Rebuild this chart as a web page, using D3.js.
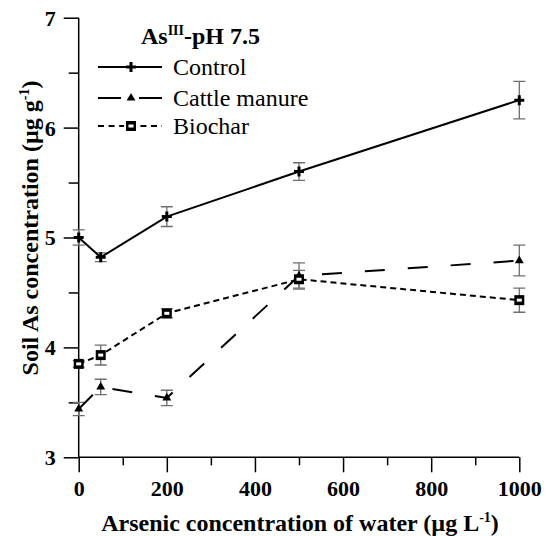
<!DOCTYPE html>
<html>
<head>
<meta charset="utf-8">
<script src="https://cdn.jsdelivr.net/npm/d3@7"></script>
<style>
  html, body { margin: 0; padding: 0; background: #fff; }
</style>
</head>
<body>
<div id="chart"></div>
<script>
// Arsenic concentration of irrigation water (µg L-1)
const waterAs = [0, 50, 200, 500, 1000];

// Soil As concentration (µg g-1) and standard errors per treatment
const controlMean = [5.00, 4.82, 5.19, 5.60, 6.25];
const controlErr  = [0.07, 0.04, 0.09, 0.08, 0.17];
const cattleMean  = [3.44, 3.64, 3.54, 4.65, 4.79];
const cattleErr   = [0.06, 0.07, 0.07, 0.12, 0.14];
const biocharMean = [3.85, 3.93, 4.31, 4.62, 4.43];
const biocharErr  = [0.03, 0.09, 0.04, 0.08, 0.11];

const seriesNames = ["Control", "Cattle manure", "Biochar"];
const xTicks = [0, 200, 400, 600, 800, 1000];
const xMinorTicks = [100, 300, 500, 700, 900];
const yTicks = [3, 4, 5, 6, 7];
const yMinorTicks = [3.5, 4.5, 5.5, 6.5];

const SERIF = '"Liberation Serif", "Times New Roman", serif';
const W = 549, H = 536;
const margin = { top: 17.7, right: 29.7, bottom: 78.7, left: 78.7 };

const svg = d3.select("#chart").append("svg")
  .attr("width", W).attr("height", H)
  .attr("font-family", SERIF);

const x = d3.scaleLinear().domain([0, 1000]).range([margin.left, W - margin.right]);
const y = d3.scaleLinear().domain([3, 7]).range([H - margin.bottom, margin.top]);

// Axes with major (labelled) and minor ticks
const xAxis = svg.append("g")
  .attr("transform", `translate(0,${y(3)})`)
  .call(d3.axisBottom(x).tickValues(xTicks).tickSize(15).tickPadding(4).tickFormat(d3.format("d")));
svg.append("g")
  .attr("transform", `translate(0,${y(3)})`)
  .call(d3.axisBottom(x).tickValues(xMinorTicks).tickSize(8).tickFormat(""))
  .call(g => g.select(".domain").remove());

const yAxis = svg.append("g")
  .attr("transform", `translate(${x(0)},0)`)
  .call(d3.axisLeft(y).tickValues(yTicks).tickSize(15).tickPadding(8).tickFormat(d3.format("d")));
svg.append("g")
  .attr("transform", `translate(${x(0)},0)`)
  .call(d3.axisLeft(y).tickValues(yMinorTicks).tickSize(10).tickFormat(""))
  .call(g => g.select(".domain").remove());

svg.selectAll(".domain").attr("stroke", "#000").attr("stroke-width", 1.5);
xAxis.select(".domain").attr("d", `M${x(0)},0H${x(1000)}`);
yAxis.select(".domain").attr("d", `M0,${y(7)}V${y(3)}`);
svg.selectAll(".tick line").attr("stroke", "#000").attr("stroke-width", 1.5);
svg.selectAll(".tick text")
  .attr("font-family", SERIF)
  .attr("font-weight", "bold")
  .attr("font-size", 22)
  .attr("fill", "#000");
xAxis.selectAll(".tick text").attr("dy", "0.9em");
yAxis.selectAll(".tick text").attr("dy", "0.34em");

// Axis titles
svg.append("text")
  .attr("x", (x(0) + x(1000)) / 2 + 1).attr("y", 531)
  .attr("text-anchor", "middle")
  .attr("font-family", SERIF).attr("font-weight", "bold").attr("font-size", 24)
  .html('Arsenic concentration of water (µg L<tspan dy="-9" font-size="14">-1</tspan><tspan dy="9">)</tspan>');

svg.append("text")
  .attr("transform", `translate(38,228) rotate(-90)`)
  .attr("text-anchor", "middle")
  .attr("font-family", SERIF).attr("font-weight", "bold").attr("font-size", 24)
  .html('Soil As concentration (µg g<tspan dy="-9" font-size="14">-1</tspan><tspan dy="9">)</tspan>');

// Series definitions
const series = [
  { name: seriesNames[0], mean: controlMean, err: controlErr, dash: null, marker: "plus" },
  { name: seriesNames[1], mean: cattleMean, err: cattleErr, dash: "20,23", marker: "triangle" },
  { name: seriesNames[2], mean: biocharMean, err: biocharErr, dash: "6,4", marker: "square" }
];

const line = d3.line().x(d => x(d.x)).y(d => y(d.y));

function drawMarker(g, type, cx, cy) {
  if (type === "plus") {
    g.append("path")
      .attr("d", `M${cx - 5},${cy}H${cx + 5}M${cx},${cy - 5}V${cy + 5}`)
      .attr("stroke", "#000").attr("stroke-width", 3).attr("fill", "none");
  } else if (type === "triangle") {
    g.append("path")
      .attr("transform", `translate(${cx},${cy})`)
      .attr("d", d3.symbol().type(d3.symbolTriangle).size(34)())
      .attr("fill", "#000");
  } else {
    g.append("rect")
      .attr("x", cx - 5).attr("y", cy - 5).attr("width", 10).attr("height", 10)
      .attr("fill", "#000");
    g.append("rect")
      .attr("x", cx - 2.5).attr("y", cy - 1.5).attr("width", 5).attr("height", 3)
      .attr("fill", "#fff");
  }
}

// Error bars
series.forEach(s => {
  const g = svg.append("g");
  waterAs.forEach((xv, i) => {
    const cx = x(xv), y0 = y(s.mean[i] - s.err[i]), y1 = y(s.mean[i] + s.err[i]);
    g.append("path")
      .attr("d", `M${cx},${y0}V${y1}M${cx - 6},${y0}H${cx + 6}M${cx - 6},${y1}H${cx + 6}`)
      .attr("stroke", "#6e6e6e").attr("stroke-width", 1.3).attr("fill", "none");
  });
});

// Lines and markers
series.forEach(s => {
  const pts = waterAs.map((xv, i) => ({ x: xv, y: s.mean[i] }));
  svg.append("path")
    .attr("d", line(pts))
    .attr("fill", "none").attr("stroke", "#000").attr("stroke-width", 2)
    .attr("stroke-dasharray", s.dash);
  const g = svg.append("g");
  pts.forEach(p => drawMarker(g, s.marker, x(p.x), y(p.y)));
});

// Legend
const legend = svg.append("g");
legend.append("text")
  .attr("x", 141).attr("y", 44)
  .attr("font-family", SERIF).attr("font-weight", "bold").attr("font-size", 24).attr("fill", "#000")
  .html('As<tspan dy="-9" font-size="14">III</tspan><tspan dy="9">-pH 7.5</tspan>');

const rowY = [67, 98, 126];
series.forEach((s, i) => {
  const ly = rowY[i];
  if (s.dash === "20,23") {
    legend.append("path").attr("d", `M98,${ly}H121M139,${ly}H162`)
      .attr("stroke", "#000").attr("stroke-width", 2);
  } else if (s.dash) {
    legend.append("path").attr("d", `M98,${ly}H162`)
      .attr("stroke", "#000").attr("stroke-width", 2).attr("stroke-dasharray", "6,4.6");
  } else {
    legend.append("path").attr("d", `M98,${ly}H162`)
      .attr("stroke", "#000").attr("stroke-width", 2);
  }
  if (s.dash === "6,4") {
    legend.append("rect").attr("x", 124).attr("y", ly - 6).attr("width", 14).attr("height", 12).attr("fill", "#fff");
  }
  drawMarker(legend, s.marker, 131, ly);
  legend.append("text")
    .attr("x", 173).attr("y", ly + 8)
    .attr("font-family", SERIF).attr("font-size", 24).attr("fill", "#000")
    .text(s.name);
});
</script>
</body>
</html>
